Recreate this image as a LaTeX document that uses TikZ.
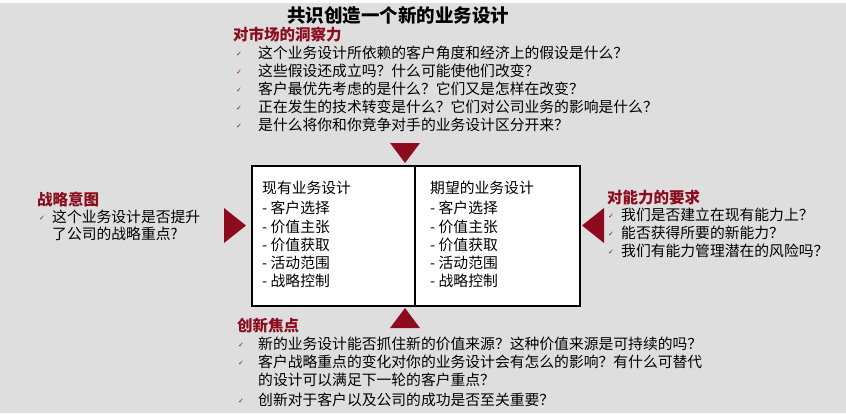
\documentclass[tikz,border=0pt]{standalone}
\usepackage{fontspec}
\setmainfont{Noto Sans CJK SC}
\newfontfamily\djv{DejaVu Sans}
\begin{document}
\begin{tikzpicture}[x=1pt,y=-1pt,
 hdr/.style={anchor=west,text=dred,font=\fontsize{15.5}{17}\selectfont\bfseries,inner sep=0},
 txt/.style={anchor=west,font=\fontsize{14.8}{16}\selectfont,inner sep=0},
 chk/.style={anchor=west,text=dred,font=\djv\fontsize{7}{8}\selectfont,inner sep=0},
 tri/.style={fill=dred,draw=none}]
\definecolor{dred}{HTML}{8C0C1E}
\fill[white] (0,0) rectangle (846,413);
\fill[black!13] (0,3) rectangle (846,413);
\useasboundingbox (0,0) rectangle (846,413);
\node[anchor=center,inner sep=0,font=\fontsize{18.5}{20}\selectfont\bfseries] (title) at (398,15) {共识创造一个新的业务设计};
% market
\node[hdr] (mh) at (233,35) {对市场的洞察力};
\foreach \t [count=\i] in {这个业务设计所依赖的客户角度和经济上的假设是什么？,这些假设还成立吗？什么可能使他们改变？,客户最优先考虑的是什么？它们又是怎样在改变？,正在发生的技术转变是什么？它们对公司业务的影响是什么？,是什么将你和你竞争对手的业务设计区分开来？}{
 \node[chk] (mc\i) at (236,54+18*\i-18) {✓};
 \node[txt] (mt\i) at (258,53+18*\i-18) {\t};}
% strategy
\node[hdr] (sh) at (37,200) {战略意图};
\node[chk] (sc) at (39,218) {✓};
\node[txt,align=left,font=\fontsize{14.8}{17}\selectfont,anchor=north west] (st) at (52,210) {这个业务设计是否提升\\了公司的战略重点?};
% capabilities
\node[hdr] (ch) at (607,198) {对能力的要求};
\foreach \t [count=\i] in {我们是否建立在现有能力上？,能否获得所要的新能力？,我们有能力管理潜在的风险吗？}{
 \node[chk] (cc\i) at (608,216+18*\i-18) {✓};
 \node[txt] (ct\i) at (621,215+18*\i-18) {\t};}
% innovation
\node[hdr] (ih) at (237,326) {创新焦点};
\node[chk] (ic1) at (238,345) {✓};
\node[txt] (it1) at (258,344) {新的业务设计能否抓住新的价值来源？这种价值来源是可持续的吗？};
\node[chk] (ic2) at (238,363) {✓};
\node[txt] (it2) at (258,362) {客户战略重点的变化对你的业务设计会有怎么的影响？有什么可替代};
\node[txt] (it3) at (258,380) {的设计可以满足下一轮的客户重点？};
\node[chk] (ic4) at (238,401) {✓};
\node[txt] (it4) at (258,400) {创新对于客户以及公司的成功是否至关重要？};
% box
\node[draw,line width=1.3pt,fill=white,minimum width=163pt,minimum height=140pt,inner sep=0] (bl) at (333.5,236) {};
\node[draw,line width=1.3pt,fill=white,minimum width=165pt,minimum height=140pt,inner sep=0] (br) at (497.5,236) {};
\node[txt,anchor=north west,align=left,font=\fontsize{14.8}{18.2}\selectfont] (blt) at (262,181) {现有业务设计\\[2pt]- 客户选择\\- 价值主张\\- 价值获取\\- 活动范围\\- 战略控制};
\node[txt,anchor=north west,align=left,font=\fontsize{14.8}{18.2}\selectfont] (brt) at (430,181) {期望的业务设计\\[2pt]- 客户选择\\- 价值主张\\- 价值获取\\- 活动范围\\- 战略控制};
% triangles
\fill[tri] (390,143) -- (420,143) -- (405,163) -- cycle;
\fill[tri] (390,328) -- (420,328) -- (405,308) -- cycle;
\fill[tri] (224,208) -- (224,243) -- (246,225.5) -- cycle;
\fill[tri] (604,208) -- (604,243) -- (582,225.5) -- cycle;
\end{tikzpicture}
\end{document}
